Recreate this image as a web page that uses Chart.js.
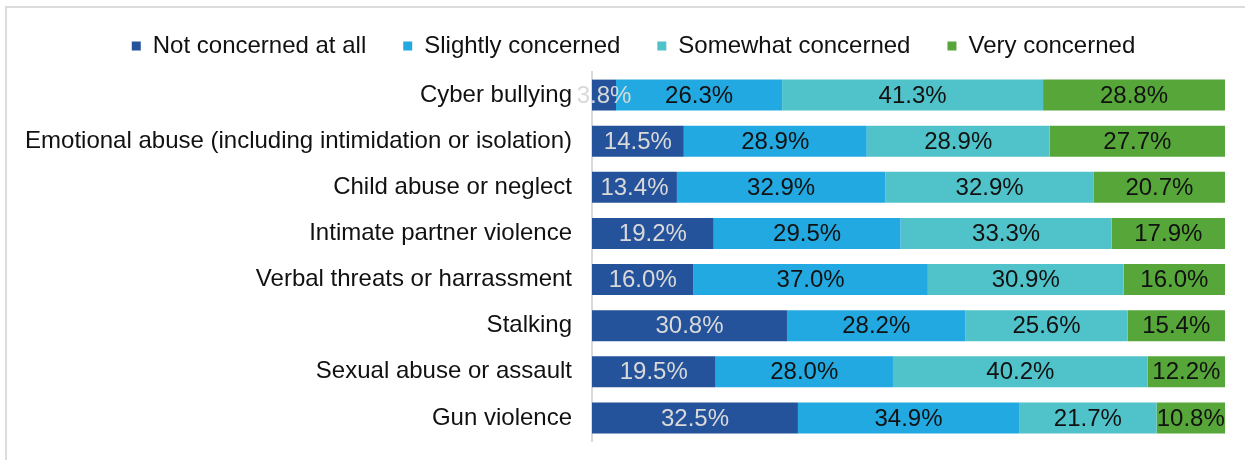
<!DOCTYPE html>
<html>
<head>
<meta charset="utf-8">
<script src="https://cdn.jsdelivr.net/npm/chart.js@4"></script>
<style>
  html, body { margin: 0; padding: 0; background: #fff; }
  #wrap { position: relative; width: 1245px; height: 460px; }
  #frame { position: absolute; left: 5px; top: 6px; right: -10px; bottom: -10px;
           border-top: 2px solid #dcdcdc; border-left: 2px solid #dcdcdc; }
  canvas { position: absolute; left: 0; top: 0; }
</style>
</head>
<body>
<div id="wrap">
  <div id="frame"></div>
  <canvas id="chart" width="1245" height="460"></canvas>
</div>
<script>
// categories, top to bottom
const categories = [
  'Cyber bullying',
  'Emotional abuse (including intimidation or isolation)',
  'Child abuse or neglect',
  'Intimate partner violence',
  'Verbal threats or harrassment',
  'Stalking',
  'Sexual abuse or assault',
  'Gun violence'
];

const seriesNames = ['Not concerned at all', 'Slightly concerned', 'Somewhat concerned', 'Very concerned'];

const notConcerned      = [3.8, 14.5, 13.4, 19.2, 16.0, 30.8, 19.5, 32.5];
const slightlyConcerned = [26.3, 28.9, 32.9, 29.5, 37.0, 28.2, 28.0, 34.9];
const somewhatConcerned = [41.3, 28.9, 32.9, 33.3, 30.9, 25.6, 40.2, 21.7];
const veryConcerned     = [28.8, 27.7, 20.7, 17.9, 16.0, 15.4, 12.2, 10.8];

const colors = ['#25539b', '#23a9e1', '#50c2c9', '#56a63a'];
const labelColors = ['#d9d9d9', '#111', '#111', '#111'];

const raw = [notConcerned, slightlyConcerned, somewhatConcerned, veryConcerned];

const FONT = '"Liberation Sans", Arial, sans-serif';
const LEFT_PAD = 12;

// 100% stacked: each row scaled to its own total
const totals = categories.map((c, i) => raw.reduce((s, arr) => s + arr[i], 0));

const datasets = raw.map((arr, k) => ({
  label: seriesNames[k],
  data: arr.map((v, i) => v / totals[i] * 100),
  rawValues: arr,
  backgroundColor: colors[k],
  borderWidth: 0,
  categoryPercentage: 0.67,
  barPercentage: 1.0
}));

// value labels centred in each segment
const segmentLabels = {
  id: 'segmentLabels',
  afterDatasetsDraw(chart) {
    const ctx = chart.ctx;
    ctx.save();
    ctx.font = '24px ' + FONT;
    ctx.textAlign = 'center';
    ctx.textBaseline = 'middle';
    chart.data.datasets.forEach((ds, k) => {
      const meta = chart.getDatasetMeta(k);
      meta.data.forEach((bar, i) => {
        const cx = (bar.x + bar.base) / 2;
        ctx.fillStyle = labelColors[k];
        ctx.fillText(ds.rawValues[i].toFixed(1) + '%', cx, bar.y + 1);
      });
    });
    ctx.restore();
  }
};

// nudge the legend a little right and up, like the original
const legendNudge = {
  id: 'legendNudge',
  afterLayout(chart) {
    const lg = chart.legend;
    lg.left += 15; lg.right += 15;
    lg.top -= 4; lg.bottom -= 4;
  }
};

new Chart(document.getElementById('chart'), {
  type: 'bar',
  data: { labels: categories, datasets: datasets },
  plugins: [segmentLabels, legendNudge],
  options: {
    indexAxis: 'y',
    responsive: false,
    animation: false,
    layout: { padding: { top: 1, right: 20, bottom: 19, left: LEFT_PAD } },
    plugins: {
      legend: {
        position: 'top',
        labels: {
          boxWidth: 9,
          boxHeight: 9,
          padding: 37,
          color: '#111',
          font: { size: 24, family: FONT }
        }
      },
      tooltip: { enabled: false }
    },
    scales: {
      x: {
        stacked: true,
        min: 0,
        max: 100,
        display: false
      },
      y: {
        stacked: true,
        grid: { display: false },
        border: { display: true, color: '#d9d9d9', width: 2 },
        ticks: {
          padding: 12,
          color: '#111',
          font: { size: 24, family: FONT }
        },
        afterFit(scale) {
          scale.width = 592 - LEFT_PAD;
          scale.paddingTop = 0;
          scale.paddingBottom = 0;
        }
      }
    }
  }
});
</script>
</body>
</html>
